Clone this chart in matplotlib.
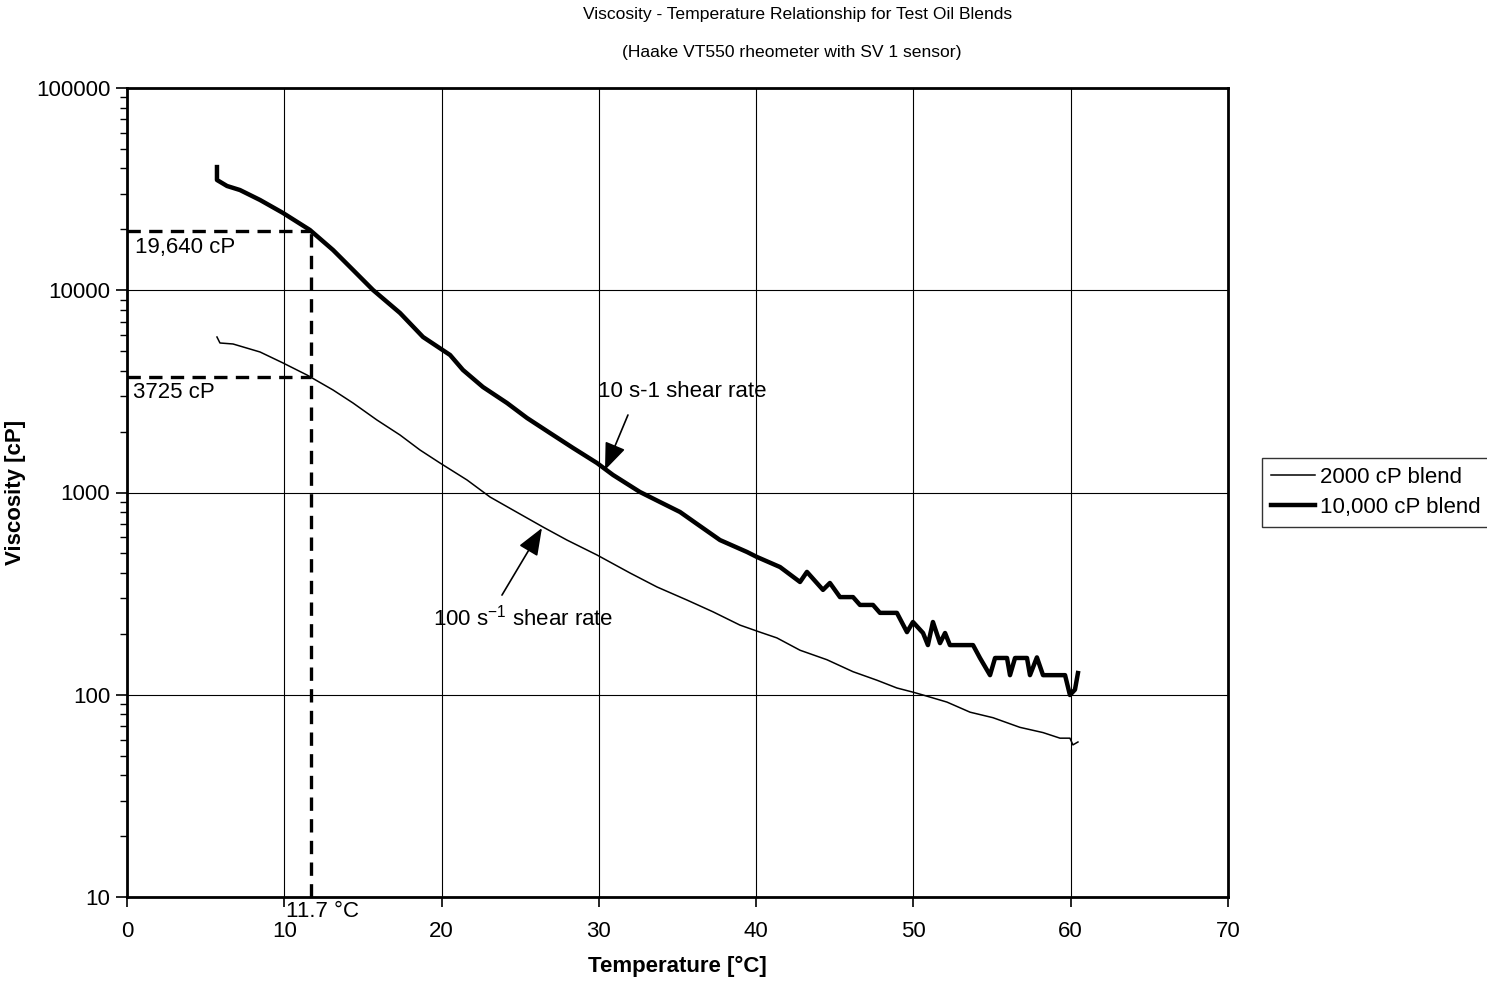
import matplotlib
matplotlib.use("Agg")
import matplotlib.pyplot as plt
from matplotlib.ticker import LogLocator, NullFormatter, FixedLocator

plt.rcParams['font.family'] = ['Liberation Sans', 'DejaVu Sans']

# ---- data ----
# 10,000 cP blend (10 s-1 shear rate)
t_10000 = [5.72, 5.72, 6.36, 7.18, 8.46, 9.92, 11.63, 13.10, 14.37, 15.64, 17.36, 18.82,
           20.54, 21.36, 22.63, 24.16, 25.43, 26.89, 28.36, 29.88, 30.90, 32.61, 33.89,
           35.16, 36.24, 37.70, 39.42, 40.05, 41.52, 42.79, 43.23, 44.25, 44.69, 45.33,
           46.16, 46.60, 47.43, 47.87, 48.95, 49.59, 49.97, 50.61, 50.92, 51.24, 51.69,
           52.01, 52.32, 53.79, 54.23, 54.87, 55.19, 55.95, 56.14, 56.46, 57.22, 57.41,
           57.85, 58.24, 59.64, 59.95, 60.27, 60.46]
v_10000 = [40650, 35090, 32770, 31300, 27940, 24100, 19860, 15810, 12600, 10030, 7717, 5873,
           4785, 4034, 3323, 2770, 2336, 1969, 1660, 1399, 1221, 1006, 897,
           801, 699, 582, 508, 480, 428, 361, 405, 330, 357, 304,
           304, 278, 278, 254, 254, 204, 229, 202, 176, 229, 180,
           202, 176, 176, 152, 125, 152, 152, 125, 152, 152, 125,
           153, 125, 125, 99.7, 106, 128]

# 2000 cP blend (100 s-1 shear rate)
t_2000 = [5.72, 5.91, 6.74, 8.46, 9.92, 11.44, 13.10, 14.37, 15.89, 17.36, 18.63, 19.90,
          21.62, 23.08, 24.54, 26.45, 27.97, 29.88, 31.98, 33.70, 35.60, 37.26, 38.97,
          40.24, 41.32, 42.79, 44.50, 46.16, 47.68, 48.95, 49.97, 50.61, 52.13, 53.60,
          55.06, 56.77, 58.24, 59.32, 59.95, 60.14, 60.46]
v_2000 = [5873, 5486, 5424, 4951, 4369, 3811, 3212, 2770, 2283, 1924, 1622, 1399,
          1153, 950, 819, 675, 582, 491, 400, 341, 294, 257, 221,
          204, 191, 166, 149, 130, 118, 108, 103, 99.7, 92, 82,
          77, 69, 65, 61, 61, 56.5, 58.4]

series_labels = ["2000 cP blend", "10,000 cP blend"]
x_ticks = [0, 10, 20, 30, 40, 50, 60, 70]
y_ticks = [10, 100, 1000, 10000, 100000]
y_tick_labels = ["10", "100", "1000", "10000", "100000"]

ref_temp = 11.7
ref_v_10000 = 19640
ref_v_2000 = 3725

FS = 16

# ---- figure ----
fig = plt.figure(figsize=(14.87, 9.82), dpi=100)
ax = fig.add_axes([127/1487, 1-897/982, (1228-127)/1487, (897-88)/982])

ax.plot(t_2000, v_2000, color='black', lw=1.1, label=series_labels[0], zorder=4)
ax.plot(t_10000, v_10000, color='black', lw=3.2, label=series_labels[1], zorder=4,
        solid_joinstyle='round')

ax.set_yscale('log')
ax.set_xlim(0, 70)
ax.set_ylim(10, 100000)
ax.xaxis.set_major_locator(FixedLocator(x_ticks))
ax.yaxis.set_major_locator(FixedLocator(y_ticks))
ax.set_yticklabels(y_tick_labels)
ax.yaxis.set_minor_locator(LogLocator(base=10, subs=range(2, 10)))
ax.yaxis.set_minor_formatter(NullFormatter())
ax.tick_params(axis='both', which='major', direction='out', length=8, width=1.2,
               labelsize=FS, colors='black')
ax.tick_params(axis='y', which='major', pad=4)
ax.tick_params(axis='x', which='major', length=7, pad=10)
ax.tick_params(axis='y', which='minor', direction='out', length=5, width=1.0)
ax.tick_params(axis='x', which='minor', bottom=False)

ax.grid(True, which='major', color='black', lw=0.8)
ax.set_axisbelow(True)
for s in ax.spines.values():
    s.set_linewidth(2)
    s.set_color('black')

# reference dashed lines
dash = dict(color='black', lw=2.4, dashes=(4, 2.5), zorder=5)
ax.plot([0, ref_temp], [ref_v_10000, ref_v_10000], **dash)
ax.plot([0, ref_temp], [ref_v_2000, ref_v_2000], **dash)
ax.plot([ref_temp, ref_temp], [10, ref_v_10000], **dash)

ax.text(0.51, 16180, "19,640 cP", fontsize=FS, va='center', ha='left')
ax.text(0.38, 3105, "3725 cP", fontsize=FS, va='center', ha='left')
ax.text(10.11, 8.50, "11.7 °C", fontsize=FS, va='center', ha='left', clip_on=False)

# arrows / annotations
arrow_props = dict(arrowstyle='-|>,head_length=1.4,head_width=0.55',
                   color='black', lw=1.2, shrinkA=0, shrinkB=0, mutation_scale=12)
ax.text(29.94, 3140, "10 s-1 shear rate", fontsize=FS, va='center', ha='left')
ax.annotate("", xy=(30.39, 1292), xytext=(31.85, 2417), arrowprops=arrow_props)
ax.annotate("", xy=(26.38, 667), xytext=(23.84, 311), arrowprops=arrow_props)
ax.text(19.45, 239.6, r"100 s$^{\mathregular{-1}}$ shear rate", fontsize=FS,
        va='center', ha='left')

ax.set_xlabel("Temperature [°C]", fontsize=FS, fontweight='bold', labelpad=10)
ax.set_ylabel("Viscosity [cP]", fontsize=FS, fontweight='bold', labelpad=7)

fig.text(798/1487, 1-14/982, "Viscosity - Temperature Relationship for Test Oil Blends",
         fontsize=12.6, ha='center', va='center')
fig.text(792/1487, 1-53/982, "(Haake VT550 rheometer with SV 1 sensor)",
         fontsize=12.6, ha='center', va='center')

leg = fig.legend(loc='upper left', bbox_to_anchor=(1262/1487, 1-458/982),
                 bbox_transform=fig.transFigure, fontsize=FS, frameon=True,
                 fancybox=False, borderaxespad=0, handlelength=2.0,
                 handletextpad=0.2, borderpad=0.4, labelspacing=0.4)
leg.get_frame().set_edgecolor('black')
leg.get_frame().set_linewidth(1.0)

fig.savefig("out.png", dpi=100)
